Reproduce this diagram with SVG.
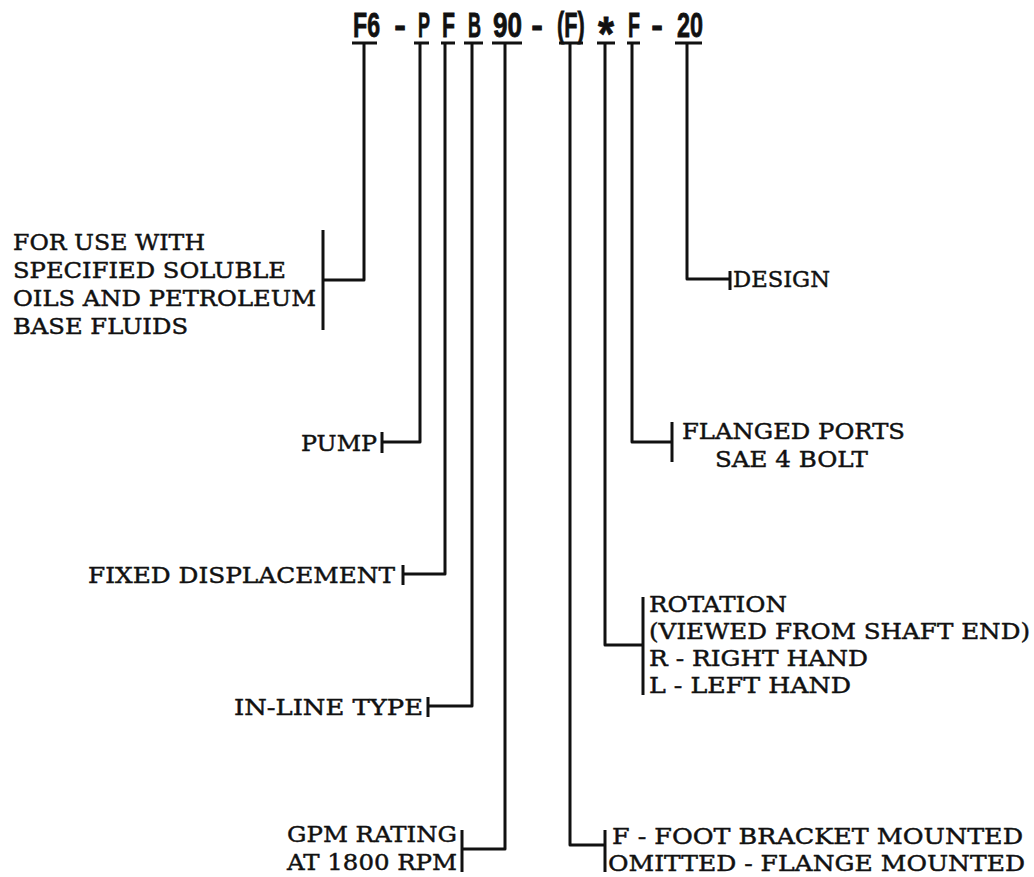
<svg xmlns="http://www.w3.org/2000/svg" width="1034" height="877" viewBox="0 0 1034 877">
<style>
.code{font-family:"Liberation Sans","Arial",sans-serif;font-weight:bold;font-size:35px;fill:#111;stroke:#111;stroke-width:0.8}
.lbl{font-family:"DejaVu Serif","Liberation Serif",serif;font-size:23px;fill:#111;stroke:#111;stroke-width:0.45}
.ln{fill:none;stroke:#111;stroke-width:3;stroke-linejoin:round;stroke-linecap:butt}
.bar{fill:none;stroke:#111;stroke-width:3}
</style>
<rect width="1034" height="877" fill="#fff"/>
<g id="code">
<text class="code" x="353" y="37" textLength="27" lengthAdjust="spacingAndGlyphs">F6</text>
<text class="code" x="400" y="37" text-anchor="middle">-</text>
<text class="code" x="418" y="37" textLength="12" lengthAdjust="spacingAndGlyphs">P</text>
<text class="code" x="442" y="37" textLength="13" lengthAdjust="spacingAndGlyphs">F</text>
<text class="code" x="468" y="37" textLength="13" lengthAdjust="spacingAndGlyphs">B</text>
<text class="code" x="493" y="37" textLength="29" lengthAdjust="spacingAndGlyphs">90</text>
<text class="code" x="537" y="37" text-anchor="middle">-</text>
<text class="code" transform="translate(557,37) scale(0.62,1)" x="0" y="0">(F)</text>
<text class="code" x="598" y="50" style="font-size:48px" textLength="16" lengthAdjust="spacingAndGlyphs">*</text>
<text class="code" x="628" y="37" textLength="12" lengthAdjust="spacingAndGlyphs">F</text>
<text class="code" x="657" y="37" text-anchor="middle">-</text>
<text class="code" x="677" y="37" textLength="26" lengthAdjust="spacingAndGlyphs">20</text>
</g>
<g id="connectors">
<path class="bar" d="M352 43H377M414 43H429M441 43H455M464 43H483M492 43H522M559 43H583M597 43H615M627 43H640M675 43H702"/>
<path class="ln" d="M364 43V280H323"/>
<path class="bar" d="M323 230V330"/>
<path class="ln" d="M420 43V442H382"/>
<path class="bar" d="M382 432V453"/>
<path class="ln" d="M445 43V574H403"/>
<path class="bar" d="M403 565V585"/>
<path class="ln" d="M472 43V706H428"/>
<path class="bar" d="M428 697V717"/>
<path class="ln" d="M505 43V849H462"/>
<path class="bar" d="M462 830V872"/>
<path class="ln" d="M570 43V845H605"/>
<path class="bar" d="M605 830V872"/>
<path class="ln" d="M605 43V645H643"/>
<path class="bar" d="M643 597V695"/>
<path class="ln" d="M632 43V442H672"/>
<path class="bar" d="M672 422V462"/>
<path class="ln" d="M687 43V279H730"/>
<path class="bar" d="M730 271V290"/>
</g>
<g id="fluids">
<text class="lbl" x="13" y="250" textLength="192" lengthAdjust="spacingAndGlyphs">FOR USE WITH</text>
<text class="lbl" x="13" y="278" textLength="273" lengthAdjust="spacingAndGlyphs">SPECIFIED SOLUBLE</text>
<text class="lbl" x="13" y="306" textLength="303" lengthAdjust="spacingAndGlyphs">OILS AND PETROLEUM</text>
<text class="lbl" x="13" y="334" textLength="175" lengthAdjust="spacingAndGlyphs">BASE FLUIDS</text>
</g>
<g id="pump">
<text class="lbl" x="301" y="451" textLength="76" lengthAdjust="spacingAndGlyphs">PUMP</text>
</g>
<g id="fixed">
<text class="lbl" x="88" y="583" textLength="307" lengthAdjust="spacingAndGlyphs">FIXED DISPLACEMENT</text>
</g>
<g id="inline">
<text class="lbl" x="234" y="715" textLength="189" lengthAdjust="spacingAndGlyphs">IN-LINE TYPE</text>
</g>
<g id="gpm">
<text class="lbl" x="287" y="842" textLength="170" lengthAdjust="spacingAndGlyphs">GPM RATING</text>
<text class="lbl" x="287" y="870" textLength="170" lengthAdjust="spacingAndGlyphs">AT 1800 RPM</text>
</g>
<g id="mounting">
<text class="lbl" x="612" y="844" textLength="411" lengthAdjust="spacingAndGlyphs">F - FOOT BRACKET MOUNTED</text>
<text class="lbl" x="608" y="871" textLength="417" lengthAdjust="spacingAndGlyphs">OMITTED - FLANGE MOUNTED</text>
</g>
<g id="rotation">
<text class="lbl" x="649" y="612" textLength="138" lengthAdjust="spacingAndGlyphs">ROTATION</text>
<text class="lbl" x="649" y="639" textLength="381" lengthAdjust="spacingAndGlyphs">(VIEWED FROM SHAFT END)</text>
<text class="lbl" x="649" y="666" textLength="219" lengthAdjust="spacingAndGlyphs">R - RIGHT HAND</text>
<text class="lbl" x="649" y="693" textLength="202" lengthAdjust="spacingAndGlyphs">L - LEFT HAND</text>
</g>
<g id="ports">
<text class="lbl" x="682" y="439" textLength="223" lengthAdjust="spacingAndGlyphs">FLANGED PORTS</text>
<text class="lbl" x="715" y="467" textLength="153" lengthAdjust="spacingAndGlyphs">SAE 4 BOLT</text>
</g>
<g id="design">
<text class="lbl" x="733" y="287" textLength="97" lengthAdjust="spacingAndGlyphs">DESIGN</text>
</g>
</svg>
